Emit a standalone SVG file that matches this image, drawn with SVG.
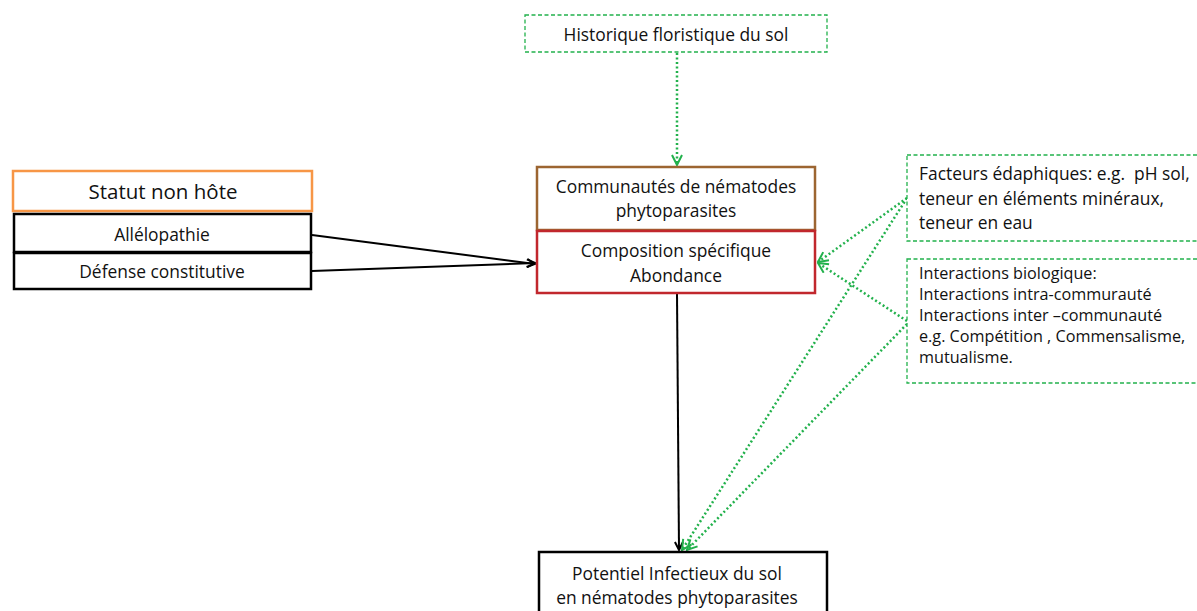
<svg xmlns="http://www.w3.org/2000/svg" width="1197" height="611" viewBox="0 0 1197 611">
<style>
text{font-family:"Open Sans","Liberation Sans",sans-serif;fill:#111;text-anchor:middle;dominant-baseline:central}
.t{font-size:17.4px}
.ts{font-size:16.2px;text-anchor:start}
.l{text-anchor:start}
.box{fill:#fff;stroke-width:2.5}
.gbox{fill:#fff;stroke:#22b14c;stroke-width:1.3;stroke-dasharray:4 2.5}
.blk{stroke:#000;stroke-width:2;fill:none}
.grn{stroke:#22b14c;stroke-width:2.5;fill:none;stroke-dasharray:2 2.5}
</style>
<defs>
<marker id="ab" viewBox="0 0 10 10" refX="9" refY="5" markerWidth="10" markerHeight="10" markerUnits="userSpaceOnUse" orient="auto">
<path d="M1,1 L9,5 L1,9" fill="none" stroke="#000" stroke-width="2"/>
</marker>
<marker id="ag" viewBox="0 0 12 12" refX="11" refY="6" markerWidth="12" markerHeight="12" markerUnits="userSpaceOnUse" orient="auto">
<path d="M1,1 L11,6 L1,11" fill="none" stroke="#22b14c" stroke-width="2"/>
</marker>
</defs>
<g id="connectors">
<line class="grn" x1="677" y1="53" x2="677" y2="165" marker-end="url(#ag)"/>
<line class="blk" x1="312" y1="235" x2="535" y2="264" marker-end="url(#ab)"/>
<line class="blk" x1="312" y1="271" x2="535" y2="263" marker-end="url(#ab)"/>
<line class="blk" x1="677" y1="294" x2="679" y2="550" marker-end="url(#ab)"/>
<line class="grn" x1="907" y1="198" x2="818" y2="262" marker-end="url(#ag)"/>
<line class="grn" x1="907" y1="321" x2="818" y2="263" marker-end="url(#ag)"/>
<line class="grn" x1="907" y1="198" x2="682" y2="550" marker-end="url(#ag)"/>
<line class="grn" x1="907" y1="324" x2="687" y2="550" marker-end="url(#ag)"/>
</g>
<g id="historique">
<rect class="gbox" x="525" y="15" width="302" height="37"/>
<text class="t" x="676" y="34">Historique floristique du sol</text>
</g>
<g id="statut">
<rect class="box" x="13" y="171" width="299" height="40" stroke="#f79646"/>
<text x="163" y="191" style="font-size:20.5px">Statut non hôte</text>
</g>
<g id="allelopathie">
<rect class="box" x="14" y="214" width="297" height="38" stroke="#000"/>
<text class="t" x="162" y="234">Allélopathie</text>
</g>
<g id="defense">
<rect class="box" x="14" y="253" width="297" height="36" stroke="#000"/>
<text class="t" x="162" y="271">Défense constitutive</text>
</g>
<g id="communautes">
<rect class="box" x="537" y="167" width="278" height="63" stroke="#9c6531"/>
<text class="t" x="676" y="186">Communautés de nématodes</text>
<text class="t" x="676" y="210">phytoparasites</text>
</g>
<g id="composition">
<rect class="box" x="537" y="231" width="278" height="62" stroke="#c1272d"/>
<text class="t" x="676" y="250">Composition spécifique</text>
<text class="t" x="676" y="275">Abondance</text>
</g>
<g id="potentiel">
<rect class="box" x="539" y="552" width="288" height="70" stroke="#000"/>
<text class="t" x="677" y="573">Potentiel Infectieux du sol</text>
<text class="t" x="677" y="597">en nématodes phytoparasites</text>
</g>
<g id="facteurs">
<rect class="gbox" x="907" y="155" width="300" height="86"/>
<text class="t l" x="919" y="173">Facteurs édaphiques: e.g.&#160; pH sol,</text>
<text class="t l" x="919" y="198">teneur en éléments minéraux,</text>
<text class="t l" x="919" y="222">teneur en eau</text>
</g>
<g id="interactions">
<rect class="gbox" x="907" y="259" width="300" height="124"/>
<text class="ts" x="919" y="273">Interactions biologique:</text>
<text class="ts" x="919" y="294">Interactions intra-commurauté</text>
<text class="ts" x="919" y="315">Interactions inter –communauté</text>
<text class="ts" x="919" y="336">e.g. Compétition , Commensalisme,</text>
<text class="ts" x="919" y="357">mutualisme.</text>
</g>
</svg>
